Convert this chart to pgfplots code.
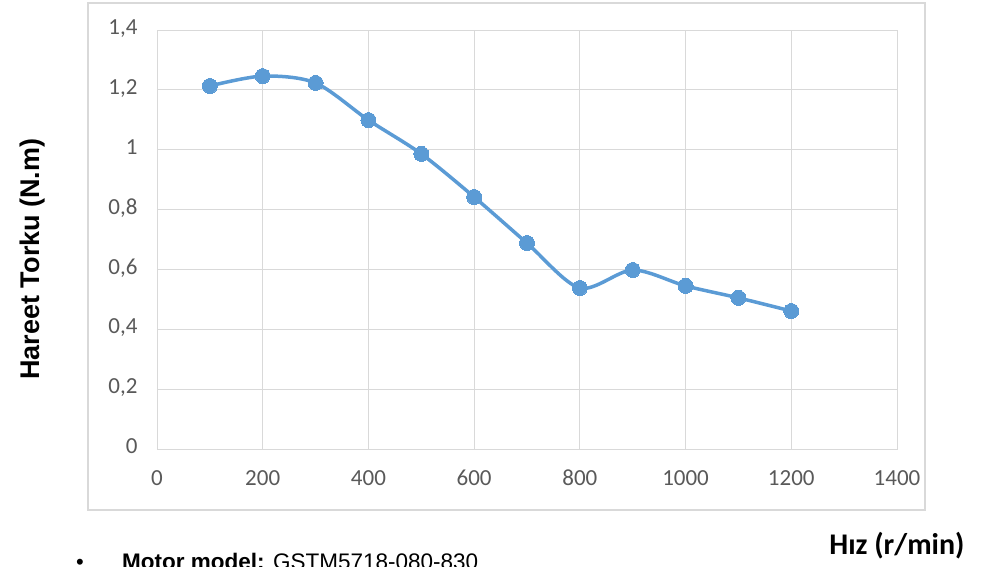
\documentclass[border=0pt]{standalone}
\usepackage{fontspec}
\setmainfont{Carlito}
\newfontfamily\arial{Liberation Sans}
\usepackage{pgfplots}
\pgfplotsset{compat=1.18}
\definecolor{excelblue}{HTML}{5B9BD5}
\definecolor{gridgray}{HTML}{D9D9D9}
\definecolor{ticktext}{HTML}{595959}

\begin{document}
\begin{tikzpicture}
\path[use as bounding box] (0pt,0pt) rectangle (1002pt,566pt);
\draw[gridgray, line width=1.5pt] (88pt,563pt) rectangle (925pt,56pt);
\begin{axis}[
    at={(157pt,117pt)}, anchor=south west,
    scale only axis, width=740pt, height=419pt,
    xmin=0, xmax=1400, ymin=0, ymax=1.4,
    xtick={0,200,...,1400},
    ytick={0,0.2,0.4,0.6,0.8,1,1.2,1.4},
    grid=major,
    grid style={gridgray, line width=1pt},
    axis line style={gridgray, line width=1pt},
    tick style={draw=none},
    ticklabel style={font=\fontsize{23}{23}\selectfont, text=ticktext},
    typeset ticklabels with strut,
    /pgf/number format/assume math mode=true,
    /pgf/number format/use comma,
    /pgf/number format/1000 sep={},
    xticklabel style={yshift=-17pt},
    yticklabel style={xshift=-16pt},
    clip=false,
]
\addplot[excelblue, line width=3.5pt, smooth, tension=0.5,
    mark=*, mark size=7.5pt, mark options={fill=excelblue, draw=excelblue, line width=0pt}]
    coordinates {(100,1.213) (200,1.246) (300,1.223) (400,1.099) (500,0.986) (600,0.842)
                 (700,0.688) (800,0.538) (900,0.598) (1000,0.545) (1100,0.505) (1200,0.461)};
\end{axis}
\node[rotate=90, font=\arial\bfseries\fontsize{27}{27}\selectfont] at (33pt,307pt) {Hareet Torku (N.m)};
\node[anchor=base east, font=\bfseries\fontsize{30}{30}\selectfont] at (968pt,12pt) {Hız (r/min)};
\node[anchor=base west, font=\arial\fontsize{22}{22}\selectfont, inner sep=0pt] at (76pt,-3pt) {\textbullet};
\node[anchor=base west, font=\arial\fontsize{22.5}{22.5}\selectfont, inner sep=0pt] at (122pt,-3pt) {\textbf{Motor model:} GSTM5718-080-830};
\end{tikzpicture}
\end{document}
